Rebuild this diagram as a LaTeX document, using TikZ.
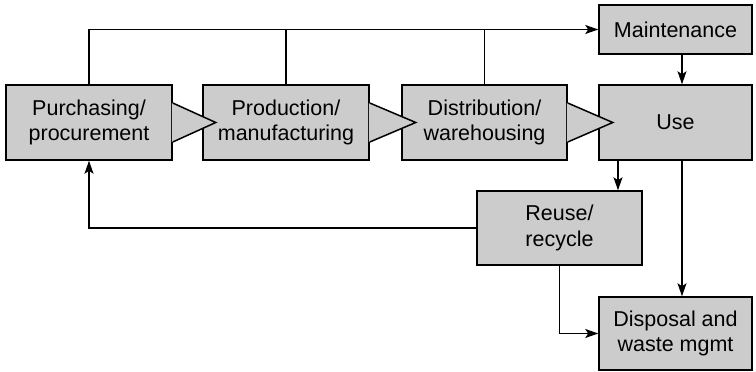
\documentclass[tikz,border=0pt]{standalone}
\usepackage{fontspec}
\setmainfont{Liberation Sans}
\usetikzlibrary{arrows.meta,calc}
\definecolor{boxgray}{gray}{0.8}
\begin{document}
\begin{tikzpicture}[x=1pt,y=-1pt,
  box/.style={draw=black,line width=1.5pt,fill=boxgray,inner sep=0pt,align=center,
    font=\fontsize{21.5}{25.5}\selectfont},
  conn/.style={line width=1.3pt},
  arr/.style={conn,-{Stealth[length=13pt,width=9pt,inset=3pt]}},
  tip/.style={fill=boxgray}]
\useasboundingbox (0,0) rectangle (756,372);
% boxes
\node[box,minimum width=153pt,minimum height=49pt] (mai) at (675.5,29.5) {Maintenance};
\node[box,minimum width=153pt,minimum height=75pt] (use) at (675.5,122.5) {Use};
\node[box,minimum width=165pt,minimum height=75pt] (dis) at (484.5,122.5) {Distribution/\\warehousing};
\node[box,minimum width=166pt,minimum height=75pt] (pro) at (286,122.5) {Production/\\manufacturing};
\node[box,minimum width=166pt,minimum height=75pt] (pur) at (89,122.5) {Purchasing/\\procurement};
\node[box,minimum width=165pt,minimum height=74pt] (reu) at (559.5,228) {Reuse/\\recycle};
\node[box,minimum width=153pt,minimum height=73pt] (dsp) at (675.5,333.5) {Disposal and\\waste mgmt};
% pointer tips
\foreach \b/\l in {pur/43,pro/46,dis/45}{
  \fill[boxgray] ($(\b.east)+(-0.8,-19.5)$) -- ($(\b.east)+(\l,0)$) -- ($(\b.east)+(-0.8,19.5)$) -- cycle;
  \draw[line width=1.5pt,line join=miter] ($(\b.east)+(0,-19.5)$) -- ($(\b.east)+(\l,0)$) -- ($(\b.east)+(0,19.5)$);
}
% connector columns
\coordinate (xa) at (682,0);
\coordinate (xb) at (618,0);
% connectors
\draw[arr] (pur.north) |- (mai.west);
\draw[conn] (pro.north) -- (pro.north |- mai.west);
\draw[conn] (dis.north) -- (dis.north |- mai.west);
\draw[arr] (mai.south -| xa) -- (use.north -| xa);
\draw[arr] (use.south -| xb) -- (reu.north -| xb);
\draw[arr] (use.south -| xa) -- (dsp.north -| xa);
\draw[arr] (reu.south) |- (dsp.west);
\draw[arr] (reu.west) -| (pur.south);
\end{tikzpicture}
\end{document}
